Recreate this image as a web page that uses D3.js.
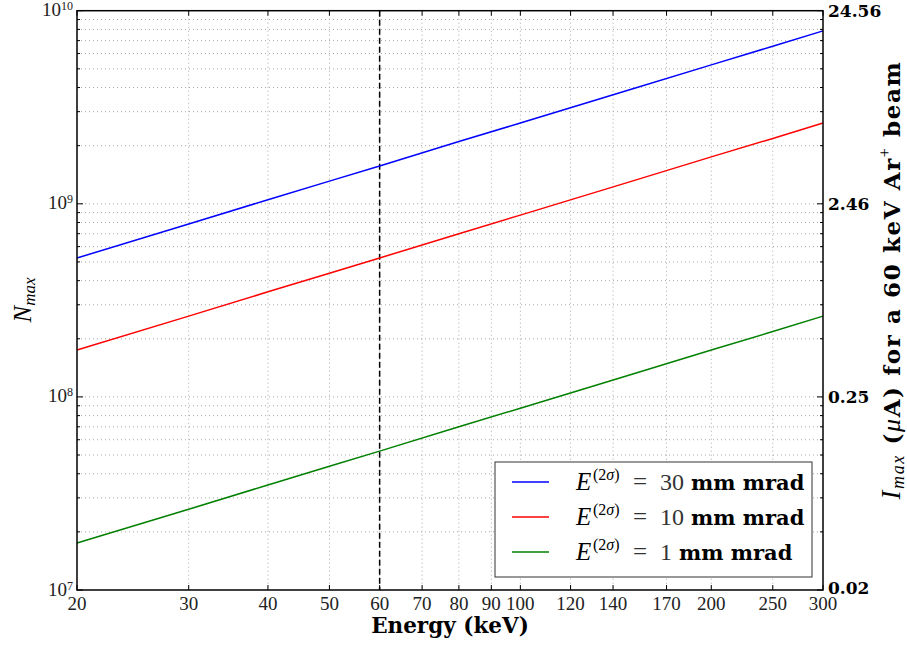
<!DOCTYPE html>
<html><head><meta charset="utf-8">
<script src="https://cdn.jsdelivr.net/npm/d3@7"></script>
<style>body{margin:0;background:#fff}</style>
</head><body><svg id="c" width="907" height="647"></svg>
<script>
const energies = [20, 30, 40, 50, 60, 80, 100, 150, 200, 250, 300];
const nBlue  = [5.24e8, 7.86e8, 1.05e9, 1.31e9, 1.57e9, 2.10e9, 2.62e9, 3.93e9, 5.24e9, 6.55e9, 7.86e9];
const nRed   = [1.75e8, 2.62e8, 3.50e8, 4.37e8, 5.24e8, 7.00e8, 8.74e8, 1.31e9, 1.75e9, 2.18e9, 2.62e9];
const nGreen = [1.75e7, 2.62e7, 3.50e7, 4.37e7, 5.24e7, 7.00e7, 8.74e7, 1.31e8, 1.75e8, 2.18e8, 2.62e8];
const seriesLabels = ["30", "10", "1"];
const seriesColors = ["#0000ff", "#ff0000", "#008000"];
const xTicks = [20, 30, 40, 50, 60, 70, 80, 90, 100, 120, 140, 170, 200, 250, 300];
const yMajor = [1e7, 1e8, 1e9, 1e10];
const yExp = ["7", "8", "9", "10"];
const rightLabels = ["0.02", "0.25", "2.46", "24.56"];
const markerEnergy = 60;

const svg = d3.select("#c");
const L = 77, R = 823, T = 10.7, B = 590;
const x = d3.scaleLog().domain([20, 300]).range([L, R]);
const y = d3.scaleLog().domain([1e7, 1e10]).range([B, T]);

const reg = "'Liberation Serif', serif";
const bold = "'DejaVu Serif', serif";

const yMinor = [];
for (let e = 7; e < 10; e++) for (let m = 2; m <= 9; m++) yMinor.push(m * Math.pow(10, e));

const g = svg.append("g");
// grid
g.selectAll(".hg").data(yMinor.concat(yMajor.slice(1, 3))).enter().append("line")
  .attr("x1", L).attr("x2", R).attr("y1", d => y(d)).attr("y2", d => y(d))
  .attr("stroke", "#a8a8a8").attr("stroke-width", 1).attr("stroke-dasharray", "1,3");
g.selectAll(".vg").data(xTicks.slice(1, -1)).enter().append("line")
  .attr("x1", d => x(d)).attr("x2", d => x(d)).attr("y1", T).attr("y2", B)
  .attr("stroke", "#a8a8a8").attr("stroke-width", 1).attr("stroke-dasharray", "1,3");

// ticks
g.selectAll(".yt").data(yMinor).enter().append("g").each(function(d){
  const s = d3.select(this);
  s.append("line").attr("x1", L).attr("x2", L + 3).attr("y1", y(d)).attr("y2", y(d)).attr("stroke", "#000");
  s.append("line").attr("x1", R).attr("x2", R - 3).attr("y1", y(d)).attr("y2", y(d)).attr("stroke", "#000");
});
g.selectAll(".yM").data(yMajor).enter().append("g").each(function(d){
  const s = d3.select(this);
  s.append("line").attr("x1", L).attr("x2", L + 6).attr("y1", y(d)).attr("y2", y(d)).attr("stroke", "#000");
  s.append("line").attr("x1", R).attr("x2", R - 6).attr("y1", y(d)).attr("y2", y(d)).attr("stroke", "#000");
});
g.selectAll(".xt").data(xTicks).enter().append("g").each(function(d){
  const s = d3.select(this);
  s.append("line").attr("x1", x(d)).attr("x2", x(d)).attr("y1", B).attr("y2", B - 5).attr("stroke", "#000");
  s.append("line").attr("x1", x(d)).attr("x2", x(d)).attr("y1", T).attr("y2", T + 5).attr("stroke", "#000");
});

// dashed marker
g.append("line").attr("x1", x(markerEnergy)).attr("x2", x(markerEnergy)).attr("y1", T).attr("y2", B)
  .attr("stroke", "#000").attr("stroke-width", 1.5).attr("stroke-dasharray", "6,3");

// lines
const allSeries = [nBlue, nRed, nGreen];
const line = d3.line().x(d => x(d[0])).y(d => y(d[1]));
allSeries.forEach((vals, i) => {
  g.append("path").datum(energies.map((e, k) => [e, vals[k]]))
    .attr("d", line).attr("fill", "none").attr("stroke", seriesColors[i]).attr("stroke-width", 1.5);
});

// frame
g.append("rect").attr("x", L).attr("y", T).attr("width", R - L).attr("height", B - T)
  .attr("fill", "none").attr("stroke", "#000").attr("stroke-width", 1.5);

// x tick labels
g.selectAll(".xl").data(xTicks).enter().append("text")
  .attr("x", d => x(d)).attr("y", 610).attr("text-anchor", "middle")
  .attr("font-family", reg).attr("font-size", 19).attr("fill", "#222").text(d => d);

// left y labels
yMajor.forEach((v, i) => {
  const t = g.append("text").attr("x", 73).attr("y", y(v) + 5.5).attr("text-anchor", "end")
    .attr("font-family", reg).attr("font-size", 19).attr("fill", "#222");
  t.append("tspan").text("10");
  t.append("tspan").attr("dy", -6).attr("font-size", 12).text(yExp[i]);
});
// right labels
yMajor.forEach((v, i) => {
  g.append("text").attr("x", 828).attr("y", y(v) + (i === 0 ? 4 : 6.5))
    .attr("font-family", bold).attr("font-weight", "bold").attr("font-size", 17).attr("fill", "#000")
    .text(rightLabels[i]);
});

// x axis label
g.append("text").attr("x", 450).attr("y", 633).attr("text-anchor", "middle")
  .attr("font-family", bold).attr("font-weight", "bold").attr("font-size", 21.5).text("Energy (keV)");

// left label
const ll = g.append("text").attr("transform", "translate(31,300) rotate(-90)").attr("text-anchor", "middle")
  .attr("font-family", reg).attr("font-style", "italic").attr("font-size", 25);
ll.append("tspan").text("N");
ll.append("tspan").attr("dy", 4).attr("font-size", 17).text("max");

// right label
const rl = g.append("text").attr("transform", "translate(900,280) rotate(-90)").attr("text-anchor", "middle")
  .attr("font-size", 23).attr("letter-spacing", 1.6);
rl.append("tspan").attr("font-family", reg).attr("font-style", "italic").attr("font-size", 27).text("I");
rl.append("tspan").attr("font-family", reg).attr("font-style", "italic").attr("font-size", 18).attr("dy", 4).text("max");
rl.append("tspan").attr("font-family", bold).attr("font-weight", "bold").attr("dy", -4).text(" (");
rl.append("tspan").attr("font-family", reg).attr("font-style", "italic").attr("font-size", 26).text("μ");
rl.append("tspan").attr("font-family", bold).attr("font-weight", "bold").text("A) for a 60 keV Ar");
rl.append("tspan").attr("font-family", reg).attr("font-size", 16).attr("dy", -10).text("+");
rl.append("tspan").attr("font-family", bold).attr("font-weight", "bold").attr("dy", 10).text(" beam");

// legend
const lg = g.append("g");
lg.append("rect").attr("x", 495).attr("y", 462).attr("width", 317).attr("height", 115)
  .attr("fill", "#fff").attr("stroke", "#333").attr("stroke-width", 1);
seriesLabels.forEach((lab, i) => {
  const yy = 482 + i * 35;
  lg.append("line").attr("x1", 512).attr("x2", 549).attr("y1", yy).attr("y2", yy)
    .attr("stroke", seriesColors[i]).attr("stroke-width", 1.5);
  const by = yy + 8;
  lg.append("text").attr("x", 576).attr("y", by).attr("font-family", reg).attr("font-style", "italic")
    .attr("font-size", 25).text("E");
  const sup = lg.append("text").attr("x", 593).attr("y", by - 10).attr("font-family", reg).attr("font-size", 16);
  sup.append("tspan").text("(2");
  sup.append("tspan").attr("font-style", "italic").text("σ");
  sup.append("tspan").text(")");
  lg.append("text").attr("x", 633).attr("y", by).attr("font-family", reg).attr("font-size", 25)
    .attr("fill", "#333").text("=");
  const num = lg.append("text").attr("x", 660).attr("y", by).attr("font-family", reg).attr("font-size", 24)
    .attr("fill", "#333");
  num.append("tspan").text(lab);
  num.append("tspan").attr("dx", 7).attr("fill", "#000").attr("font-family", bold).attr("font-weight", "bold")
    .attr("font-size", 21).text("mm mrad");
});
</script></body></html>
